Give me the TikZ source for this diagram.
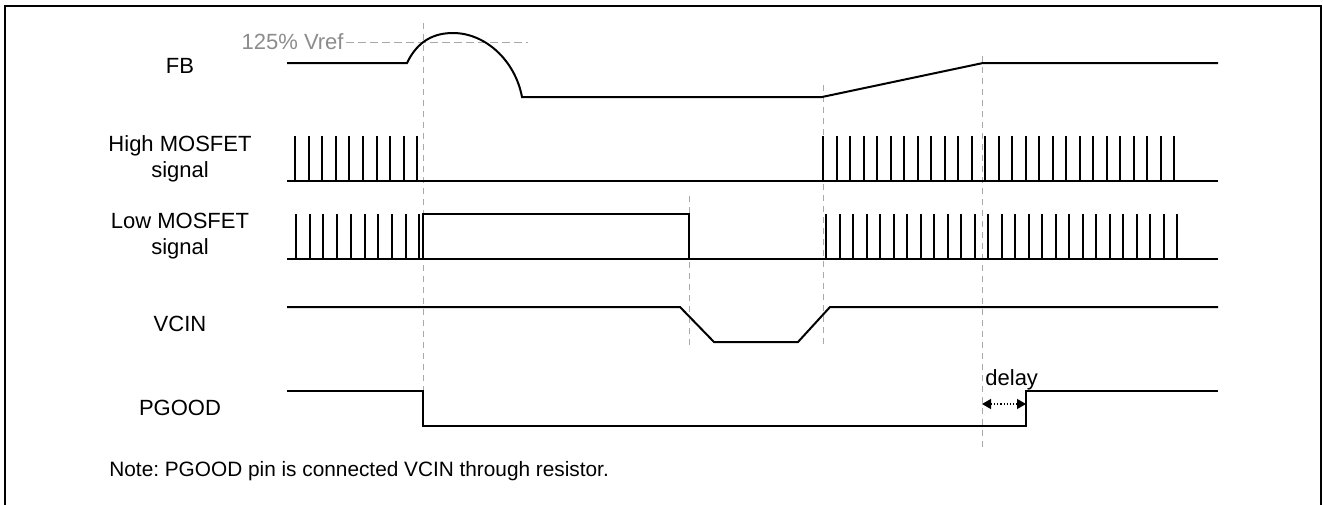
\documentclass[tikz,border=0pt]{standalone}
\usepackage{fontspec}
\setmainfont{Liberation Sans}
\usetikzlibrary{arrows.meta, positioning}
\definecolor{refgray}{RGB}{140, 140, 140}
\definecolor{guidegray}{RGB}{170, 170, 170}
\frenchspacing

\begin{document}
\begin{tikzpicture}[x=0.5pt, y=-0.5pt,
  sig/.style={line width=1pt, line join=miter},
  pulse/.style={line width=1pt},
  guide/.style={draw=guidegray, line width=0.5pt, dash pattern=on 3pt off 2.5pt},
  lbl/.style={font=\fontsize{11}{13}\selectfont, align=center},
  dim/.style={{Triangle[length=4.5pt, width=5pt]}-{Triangle[length=4.5pt, width=5pt]},
    line width=0.6pt, densely dotted}
]
  \useasboundingbox (0, 0) rectangle (1323, 504);
  \clip (0, 0) rectangle (1323, 504);
  \draw[line width=1pt] (5, 6) rectangle (1321, 512);

  % Labels
  \node[lbl] (fb) at (180, 66) {FB};
  \node[lbl] (high) at (180, 159) {High MOSFET\\signal};
  \node[lbl] (low) at (180, 236) {Low MOSFET\\signal};
  \node[lbl] (vcin) at (180, 324) {VCIN};
  \node[lbl] (pgood) at (180, 408) {PGOOD};
  \node[lbl, font=\fontsize{10.4}{13}\selectfont, anchor=west, inner sep=0pt]
    (note) at (109, 471) {Note: PGOOD pin is connected VCIN through resistor.};

  % Guides
  \draw[guide] (423, 23) -- (423, 427);
  \draw[guide] (689, 196) -- (689, 348);
  \draw[guide] (823, 85) -- (823, 345);
  \draw[guide] (982, 56) -- (982, 448);
  \node[lbl, text=refgray, anchor=east, inner sep=1pt] (vref) at (346, 42)
    {125\% Vref};
  \draw[guide, dash pattern=on 4pt off 2pt] (vref.east) -- (528, 42);

  % FB
  \draw[sig] (287, 63) -- (407, 63)
    .. controls (418, 40) and (435, 33) .. (453, 33)
    .. controls (485, 33) and (515, 60) .. (522, 97)
    -- (822, 97) -- (983, 63) -- (1218, 63);

  % High MOSFET signal
  \draw[sig] (287, 181) -- (1218, 181);
  \foreach \i in {0,...,9}
    \draw[pulse] (295 + 13.6*\i, 181) -- ++(0, -45);
  \foreach \i in {0,...,26}
    \draw[pulse] (823 + 13.5*\i, 181) -- ++(0, -45);

  % Low MOSFET signal
  \draw[sig] (287, 259) -- (1218, 259);
  \foreach \i in {0,...,9}
    \draw[pulse] (296 + 13.7*\i, 259) -- ++(0, -45);
  \draw[sig] (423, 259) -- (423, 214) -- (689, 214) -- (689, 259);
  \foreach \i in {0,...,26}
    \draw[pulse] (826 + 13.5*\i, 259) -- ++(0, -45);

  % VCIN
  \draw[sig] (287, 307) -- (680, 307) -- (714, 342) -- (798, 342)
    -- (830, 307) -- (1218, 307);

  % PGOOD
  \draw[sig] (287, 391) -- (423, 391) -- (423, 426) -- (1026, 426)
    -- (1026, 391) -- (1218, 391);
  \coordinate (dl) at (982, 404);
  \coordinate (dr) at (1026, 404);
  \draw[dim] (dl) -- (dr);
  \node[lbl, anchor=base west, inner sep=0pt] (delay) at (985, 385) {delay};
\end{tikzpicture}
\end{document}
